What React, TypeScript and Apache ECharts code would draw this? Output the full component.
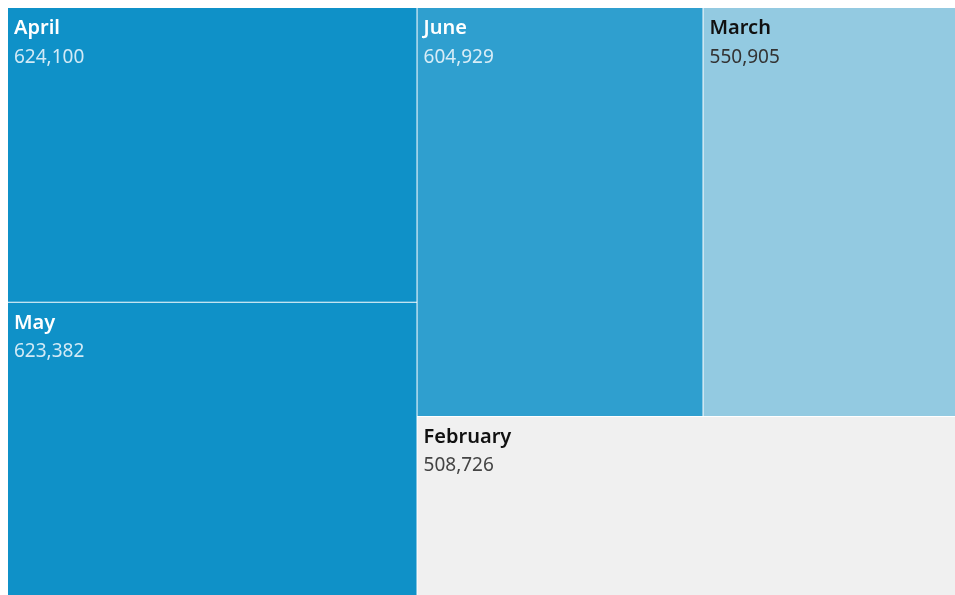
import React, { useEffect, useRef } from "react";
import * as echarts from "echarts";

const months = ["April", "May", "June", "March", "February"];
const values = [624100, 623382, 604929, 550905, 508726];
const fillColors = ["#0f91c8", "#0f91c8", "#2f9fcf", "#93cae1", "#f0f0f0"];
const nameColors = ["#ffffff", "#ffffff", "#ffffff", "#111111", "#111111"];
const valueColors = ["#d2eaf6", "#d2eaf6", "#d8edf7", "#333333", "#444444"];

const fmt = (v: number) => v.toLocaleString("en-US");

export default function App() {
  const ref = useRef<HTMLDivElement>(null);
  useEffect(() => {
    if (!ref.current) return;
    const chart = echarts.init(ref.current, undefined, { renderer: "svg" });
    const data = months.map((m, i) => ({
      name: m,
      value: values[i],
      itemStyle: { color: fillColors[i] },
      label: {
        rich: {
          n: { color: nameColors[i], fontSize: 20, fontWeight: 600, fontFamily: "Noto Sans", lineHeight: 29 },
          v: { color: valueColors[i], fontSize: 19, fontFamily: "Noto Sans", lineHeight: 29 },
        },
      },
    }));
    chart.setOption({
      animation: false,
      series: [
        {
          type: "treemap",
          left: 0,
          top: 0,
          width: 955,
          height: 588,
          roam: false,
          nodeClick: false,
          breadcrumb: { show: false },
          squareRatio: 0.5 * (1 + Math.sqrt(5)),
          itemStyle: { borderColor: "#ffffff", borderWidth: 0, gapWidth: 1 },
          label: {
            show: true,
            position: "insideTopLeft",
            distance: 0,
            padding: [4, 5, 0, 6],
            formatter: (p: any) => `{n|${p.name}}\n{v|${fmt(p.value)}}`,
          },
          emphasis: { disabled: true },
          data,
        },
      ],
    });
    return () => chart.dispose();
  }, []);
  return (
    <div style={{ position: "fixed", left: 8, top: 8, width: 947, height: 587, overflow: "hidden" }}>
      <div ref={ref} style={{ width: 955, height: 588 }} />
    </div>
  );
}
